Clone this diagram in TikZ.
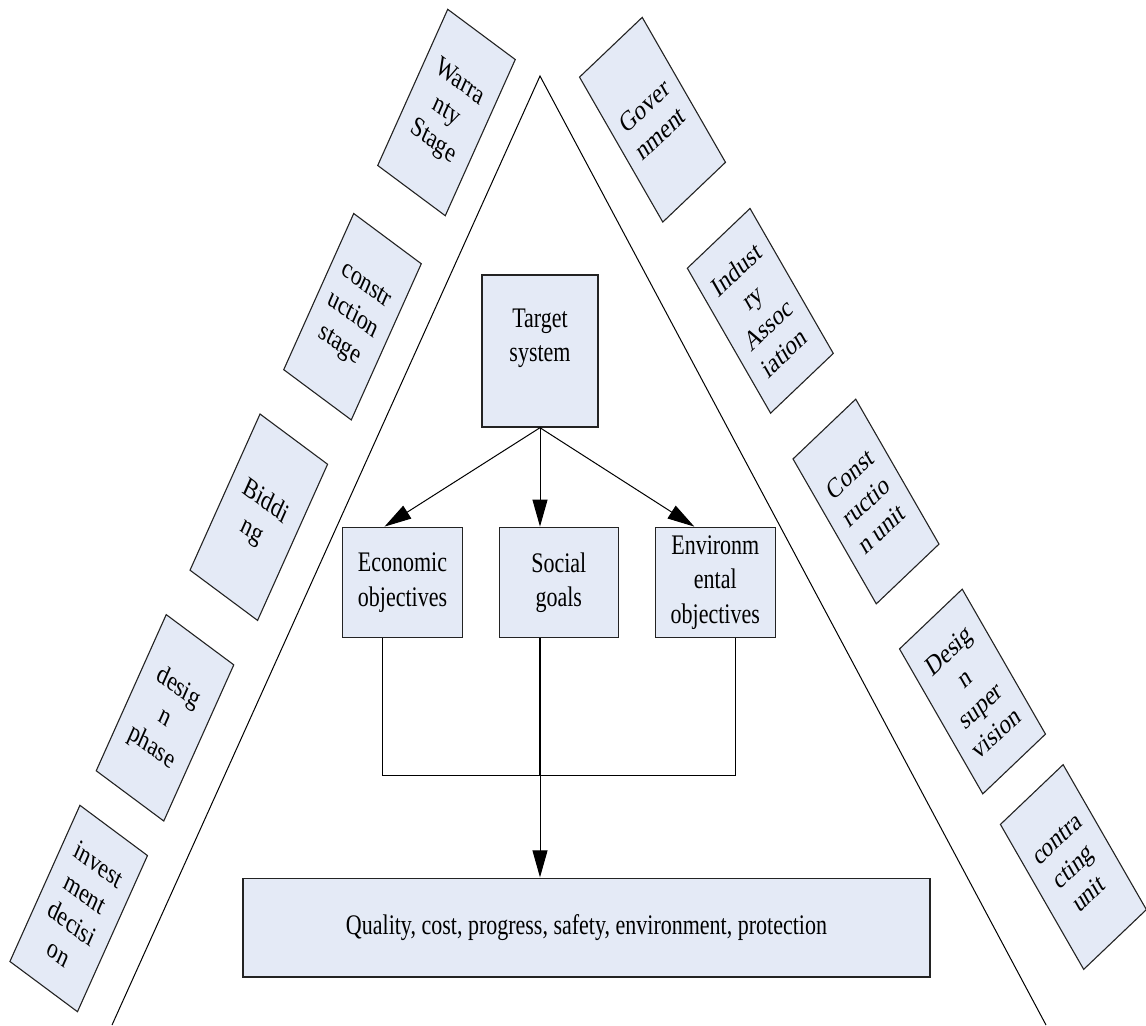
\documentclass[tikz,border=0pt]{standalone}
\usepackage{fontspec}
\setmainfont{Liberation Serif}
\usetikzlibrary{arrows.meta}
\definecolor{boxfill}{RGB}{228,234,246}
\definecolor{boxline}{RGB}{35,35,35}
\begin{document}
\begin{tikzpicture}[x=0.5pt, y=0.5pt,
  lbl/.style={font=\fontsize{11}{13.3}\selectfont, align=center, inner sep=0pt},
  box/.style={lbl, draw=boxline, fill=boxfill, line width=0.55pt, yscale=1.288},
  rbox/.style={box, minimum width=39pt, minimum height=70pt},
  lbox/.style={rbox, rotate=-30},
  qbox/.style={rbox, rotate=36.5},
  obj/.style={box, minimum width=59.75pt, minimum height=42.86pt},
  conn/.style={line width=0.5pt},
  arr/.style={conn, -{Triangle[length=13.5pt,width=7.5pt]}}
]
\useasboundingbox (0,0) rectangle (1146,-1025);

% triangle
\coordinate (apex) at (540,-76);
\coordinate (bl) at (112,-1025);
\coordinate (br) at (1046,-1025);
\draw[conn] (bl) -- (apex) -- (br);

% left column (project stages)
\node[lbox] (warr) at (446.5,-112.5) {Warra\\nty\\Stage};
\node[lbox] (cons) at (352.5,-316.7) {constr\\uction\\stage};
\node[lbox] (bidd) at (258.8,-517.2) {Biddi\\ng};
\node[lbox] (desp) at (165,-717.8) {desig\\n\\phase};
\node[lbox] (inve) at (78.7,-908.5) {invest\\ment\\decisi\\on};

% right column (participants)
\node[qbox] (gove) at (652.5,-119.7) {Gover\\nment};
\node[qbox] (indu) at (760.3,-310.8) {Indust\\ry\\Assoc\\iation};
\node[qbox] (cunit) at (866,-501.5) {Const\\ructio\\n unit};
\node[qbox] (dsup) at (972.5,-691.5) {Desig\\n\\super\\vision};
\node[qbox] (ctru) at (1073.4,-867) {contra\\cting\\unit};

% centre
\node[box, minimum width=58pt, minimum height=59pt] (tgt) at (540,-351) {};
\node[lbl, yscale=1.288] (tgttxt) at (540,-338) {Target\\system};
\node[obj] (eco) at (402.5,-582.5) {Economic\\objectives};
\node[obj] (soc) at (558.8,-582.5) {Social\\goals};
\node[obj] (env) at (715.3,-582.5) {Environm\\ental\\objectives};
\node[box, minimum width=343.5pt, minimum height=38.4pt] (bot) at (586.5,-927.5)
  {Quality, cost, progress, safety, environment, protection};

\draw[arr] (tgt.south) -- ([xshift=21.15pt]eco.north west);
\draw[arr] (tgt.south) -- (soc.north -| tgt.south);
\draw[arr] (tgt.south) -- ([xshift=19.65pt]env.north west);

\coordinate (hbar) at (540,-775);
\draw[conn] ([xshift=20.3pt]eco.south west) |- (hbar) -| ([xshift=40pt]env.south west);
\draw[line width=1pt] (soc.south -| tgt.south) -- (hbar);
\draw[arr] (hbar) -- (bot.north -| hbar);
\end{tikzpicture}
\end{document}
